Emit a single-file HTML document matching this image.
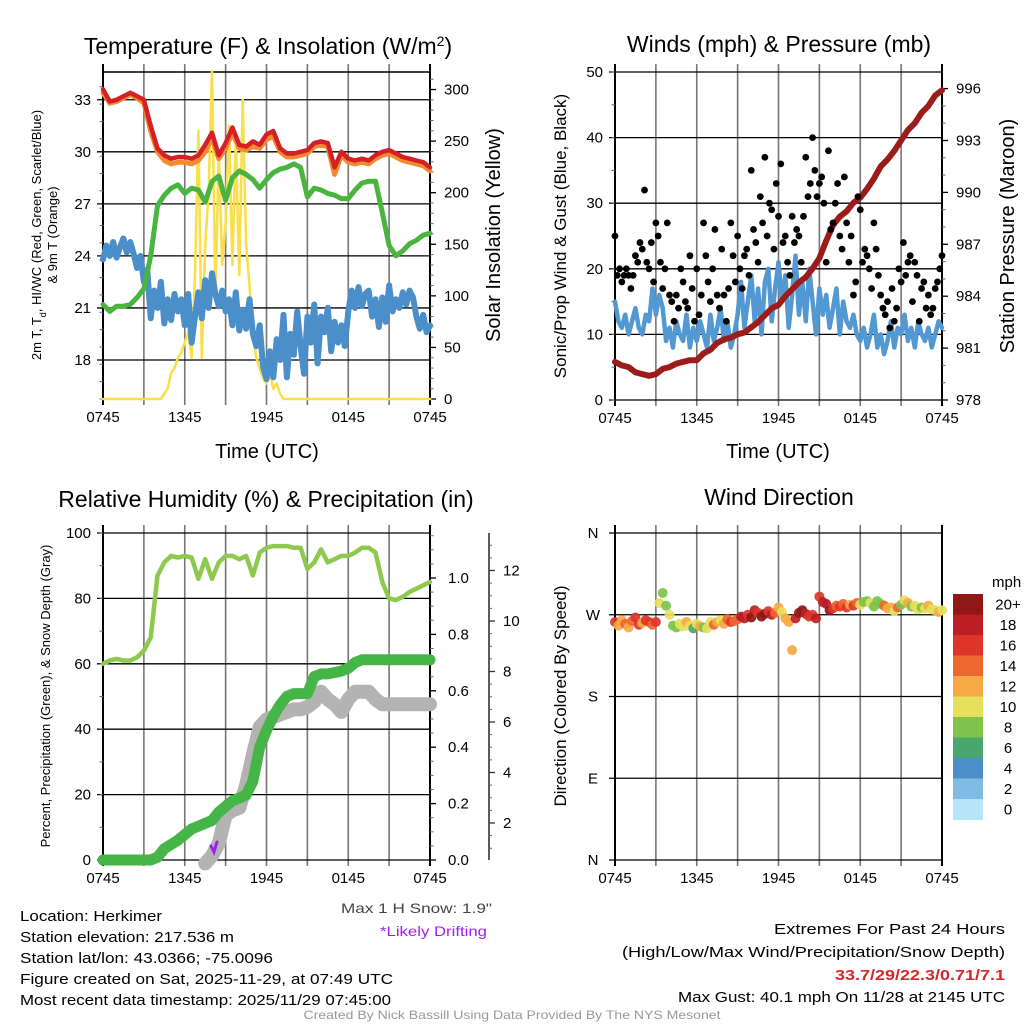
<!DOCTYPE html>
<html><head><meta charset="utf-8"><style>
html,body{margin:0;padding:0;background:#fff;}
svg{display:block;font-family:"Liberation Sans",Arial,sans-serif;}
</style></head><body>
<svg id="c" width="1024" height="1024" viewBox="0 0 1024 1024" xmlns="http://www.w3.org/2000/svg">
<rect width="1024" height="1024" fill="#fff"/>
<g id="p1"></g>
<g id="p2"></g>
<g id="p3"></g>
<g id="p4"></g>
<g id="labels">
<text x="268" y="54" font-size="23" text-anchor="middle">Temperature (F) &amp; Insolation (W/m<tspan baseline-shift="super" font-size="14">2</tspan>)</text>
<text x="779" y="52" font-size="23" text-anchor="middle">Winds (mph) &amp; Pressure (mb)</text>
<text x="266" y="507" font-size="23" text-anchor="middle">Relative Humidity (%) &amp; Precipitation (in)</text>
<text x="779" y="505" font-size="23" text-anchor="middle">Wind Direction</text>
<text x="267" y="458" font-size="20" text-anchor="middle">Time (UTC)</text>
<text x="778" y="458" font-size="20" text-anchor="middle">Time (UTC)</text>
<text transform="translate(41,235) rotate(-90)" font-size="13" text-anchor="middle">2m T, T<tspan baseline-shift="sub" font-size="9">d</tspan>, HI/WC (Red, Green, Scarlet/Blue)</text>
<text transform="translate(57,235) rotate(-90)" font-size="13" text-anchor="middle">&amp; 9m T (Orange)</text>
<text transform="translate(500,235) rotate(-90)" font-size="20" text-anchor="middle">Solar Insolation (Yellow)</text>
<text transform="translate(566,236) rotate(-90)" font-size="17" text-anchor="middle">Sonic/Prop Wind &amp; Gust (Blue, Black)</text>
<text transform="translate(1014,236) rotate(-90)" font-size="20" text-anchor="middle">Station Pressure (Maroon)</text>
<text transform="translate(50,696) rotate(-90)" font-size="13" text-anchor="middle">Percent, Precipitation (Green), &amp; Snow Depth (Gray)</text>
<text transform="translate(566,696) rotate(-90)" font-size="17" text-anchor="middle">Direction (Colored By Speed)</text>
<text x="492" y="913" font-size="14" text-anchor="end" fill="#444" textLength="151" lengthAdjust="spacingAndGlyphs">Max 1 H Snow: 1.9"</text>
<text x="487" y="936" font-size="14" text-anchor="end" fill="#a020f0" textLength="107" lengthAdjust="spacingAndGlyphs">*Likely Drifting</text>
<g font-size="15">
<text x="20" y="921" textLength="142" lengthAdjust="spacingAndGlyphs">Location: Herkimer</text>
<text x="20" y="942" textLength="214" lengthAdjust="spacingAndGlyphs">Station elevation: 217.536 m</text>
<text x="20" y="963" textLength="253" lengthAdjust="spacingAndGlyphs">Station lat/lon: 43.0366; -75.0096</text>
<text x="20" y="984" textLength="373" lengthAdjust="spacingAndGlyphs">Figure created on Sat, 2025-11-29, at 07:49 UTC</text>
<text x="20" y="1005" textLength="371" lengthAdjust="spacingAndGlyphs">Most recent data timestamp: 2025/11/29 07:45:00</text>
</g>
<g font-size="15" text-anchor="end">
<text x="1005" y="934" textLength="231" lengthAdjust="spacingAndGlyphs">Extremes For Past 24 Hours</text>
<text x="1005" y="957" textLength="383" lengthAdjust="spacingAndGlyphs">(High/Low/Max Wind/Precipitation/Snow Depth)</text>
<text x="1005" y="980" font-weight="bold" fill="#d42a2a" textLength="170" lengthAdjust="spacingAndGlyphs">33.7/29/22.3/0.71/7.1</text>
<text x="1005" y="1002" textLength="327" lengthAdjust="spacingAndGlyphs">Max Gust: 40.1 mph On 11/28 at 2145 UTC</text>
</g>
<text x="512" y="1019" font-size="12" fill="#999" text-anchor="middle" textLength="417" lengthAdjust="spacingAndGlyphs">Created By Nick Bassill Using Data Provided By The NYS Mesonet</text>
</g>
</svg>
<script>
// ---------- data (every 30 min unless noted, hours after 0745 UTC) ----------
const xTickLabels = ["0745","1345","1945","0145","0745"];
const tempRed = [33.6,32.9,33.0,33.2,33.4,33.2,33.0,31.5,30.2,29.8,29.6,29.7,29.7,29.6,29.8,30.4,31.1,29.8,30.5,31.4,30.4,30.3,30.6,30.4,31.0,31.2,30.2,29.9,29.9,30.0,30.1,30.5,30.6,30.5,29.1,30.0,29.6,29.5,29.6,29.5,29.8,30.0,30.1,29.9,29.7,29.6,29.5,29.4,29.1];
const temp9m = [33.4,32.8,32.9,33.1,33.3,33.1,32.8,31.2,30.0,29.5,29.3,29.4,29.4,29.3,29.5,30.0,30.8,29.6,30.2,31.1,30.2,30.1,30.3,30.2,30.7,30.9,30.0,29.7,29.7,29.8,29.9,30.3,30.4,30.3,28.7,29.8,29.4,29.3,29.4,29.3,29.6,29.8,29.9,29.7,29.5,29.4,29.3,29.2,28.9];
const dewPoint = [21.2,20.8,21.1,21.1,21.2,21.6,22.1,24.0,26.9,27.5,27.9,28.1,27.6,27.9,27.8,27.1,28.3,28.6,27.2,28.5,28.9,28.7,28.4,27.9,28.4,28.8,29.0,29.1,29.3,29.1,27.4,27.9,27.8,27.6,27.5,27.3,27.3,27.8,28.2,28.3,28.3,26.5,24.6,24.0,24.3,24.7,24.9,25.2,25.3];
// every 15 min
const windChill = [23.8,24.6,24.0,24.8,23.9,24.5,25.0,24.2,24.8,24.1,23.3,24.0,22.5,23.2,20.4,22.0,21.0,22.5,20.1,21.5,20.3,21.8,20.8,21.5,20.0,21.8,19.0,20.5,21.9,20.4,22.6,21.0,23.0,21.8,21.1,22.0,20.8,21.5,20.0,21.9,19.7,20.9,19.8,21.5,19.5,18.8,20.0,17.6,16.9,18.5,17.0,19.2,18.0,20.6,17.0,19.5,18.3,20.8,18.8,17.2,20.5,19.0,21.2,17.8,20.5,19.6,21.0,18.5,20.2,19.0,20.0,18.8,20.8,22.0,21.0,22.2,21.1,21.8,22.0,20.5,21.5,19.9,21.6,20.2,22.3,20.8,21.5,21.0,21.9,21.2,22.0,21.6,20.5,19.8,20.6,19.6,20.0];
const solar = [0,0,0,0,0,0,0,0,0,0,0,0,0,0,0,0,0,0,5,10,25,30,40,45,55,65,40,120,260,40,150,200,318,100,240,130,170,265,130,250,120,290,150,110,60,40,30,20,15,25,10,15,5,0,0,0,0,0,0,0,0,0,0,0,0,0,0,0,0,0,0,0,0,0,0,0,0,0,0,0,0,0,0,0,0,0,0,0,0,0,0,0,0,0,0,0,0];
const tempTicks = [18,21,24,27,30,33];
const solarTicks = [0,50,100,150,200,250,300];
// winds: 15-min sustained, 10-min gusts, 30-min pressure
const windSpeed = [15,12,11,13,10,12,14,11,10,13,12,17,13,16,14,9,11,8,12,10,9,13,8,11,9,12,10,8,13,9,11,14,9,12,8,10,13,18,11,15,19,12,17,10,18,20,12,17,21,15,19,11,16,22,13,18,12,20,15,10,17,13,16,11,14,17,10,15,12,11,13,10,9,11,8,10,13,8,10,7,9,12,8,11,10,13,9,11,8,12,10,9,11,8,10,12,11];
const gusts = [25,19,20,18,19,20,19,17,19,22,21,24,23,32,21,20,24,18,27,25,21,17,20,27,16,15,12,16,14,20,18,15,14,22,17,12,20,13,16,27,22,18,15,20,26,16,14,23,16,12,17,27,22,18,25,20,17,22,23,19,35,26,24,21,31,27,37,25,30,29,23,33,28,36,24,25,21,19,28,24,26,25,21,28,37,31,33,40,35,31,33,34,30,21,38,26,27,30,33,25,23,34,27,21,25,16,18,31,29,21,23,22,20,17,27,23,19,16,14,13,15,11,17,12,14,20,18,24,19,21,22,15,21,19,12,17,18,14,16,13,14,17,18,20,22];
const pressure = [980.2,980.0,979.9,979.6,979.5,979.4,979.5,979.8,979.9,980.1,980.2,980.3,980.3,980.7,980.9,981.3,981.5,981.6,981.8,981.9,982.2,982.5,982.9,983.3,983.5,984.0,984.4,984.8,985.1,985.6,986.2,987.2,988.1,988.6,988.9,989.4,989.7,990.2,990.8,991.5,991.9,992.4,993.0,993.6,994.0,994.6,995.0,995.6,995.9];
const windTicks = [0,10,20,30,40,50];
const pressTicks = [978,981,984,987,990,993,996];
// humidity / precipitation / snow (30 min)
const rh = [60,61,61.5,61,61,62,64,68,87,91,93,92.5,93,92.5,86,92,86,91,93,93,92,93,87,94,95.5,96,96,96,95.5,95.5,89,91,95,91,92,93,93,94,95.5,95.5,94,85,80,79.5,80.5,82,83,84,85];
const precip = [0,0,0,0,0,0,0,0,0.01,0.04,0.055,0.07,0.09,0.11,0.12,0.13,0.14,0.17,0.19,0.21,0.22,0.23,0.28,0.40,0.46,0.51,0.55,0.58,0.59,0.59,0.59,0.65,0.66,0.66,0.665,0.67,0.68,0.70,0.71,0.71,0.71,0.71,0.71,0.71,0.71,0.71,0.71,0.71,0.71];
const snowDepth = [null,null,null,null,null,null,null,null,null,null,null,null,null,null,null,0.4,0.7,1.2,2.3,2.5,2.6,3.5,4.7,5.8,6.1,6.2,6.3,6.4,6.5,6.5,6.6,6.8,7.2,6.9,6.7,6.4,6.9,7.2,7.2,7.2,6.9,6.7,6.7,6.7,6.7,6.7,6.7,6.7,6.7];
const rhTicks = [0,20,40,60,80,100];
const precipTicks = [0.0,0.2,0.4,0.6,0.8,1.0];
const snowTicks = [2,4,6,8,10,12];
// direction (15 min)
const direction = [262,258,264,260,256,263,267,259,261,264,262,259,262,283,294,280,270,258,256,260,257,262,258,255,260,257,256,255,262,259,262,264,260,265,262,263,265,268,266,270,267,275,272,268,271,274,270,272,278,273,266,262,231,266,272,275,271,268,270,266,290,284,282,275,277,280,279,282,278,281,280,283,281,284,285,283,279,285,282,280,277,278,274,278,281,286,283,279,280,276,278,277,280,276,275,273,275];
const dirSpeed = [16,13,12,14,13,15,16,17,12,16,17,15,16,11,8,9,11,8,9,10,11,12,10,6,10,12,9,11,10,14,12,11,13,14,17,15,15,18,19,17,20,19,16,20,21,17,18,15,12,11,13,12,13,19,20,21,18,17,16,18,17,19,18,20,17,15,16,14,17,12,16,14,10,9,8,11,9,8,9,14,12,13,10,14,9,10,12,9,10,11,9,10,13,10,11,12,11];
const dirTicks = ["N","E","S","W","N"];
const speedBins = ["0","2","4","6","8","10","12","14","16","18","20+"];
const speedColors = ["#b6e4f8","#7fbbe4","#4a8fc7","#4aa66f","#7dc34c","#e6e05b","#f6a944","#ee6630","#dd3629","#bb1e24","#8f1718"];

const NS="http://www.w3.org/2000/svg";
function mk(parent,tag,attrs){const e=document.createElementNS(NS,tag);for(const k in attrs)e.setAttribute(k,attrs[k]);parent.appendChild(e);return e;}
function lin(d0,d1,r0,r1){return v=>r0+(v-d0)*(r1-r0)/(d1-d0);}

function frame(g,L,R,T,B,name){
  const xs=lin(0,24,L,R);
  for(let h=0;h<=24;h+=3){
    const l=mk(g,'line',{x1:xs(h),x2:xs(h),y1:T-8,y2:B+6,stroke:(h===0||h===24)?'#000':'#777','stroke-width':(h===0||h===24)?2:1.6});
    
    
  }
  xTickLabels.forEach((t,i)=>{
    const tx=mk(g,'text',{x:xs(i*6),y:B+23,'font-size':15,'text-anchor':'middle'});
    tx.textContent=t;
    
    
  });
  return xs;
}
function hgrid(g,L,R,y,name){
  const l=mk(g,'line',{x1:L-6,x2:R,y1:y,y2:y,stroke:'#000','stroke-width':1.3});
  
  
}
function minorTicks(g,x,T,B,step,dir,name){
  for(let y=B;y>=T-0.5;y-=step){
    const l=mk(g,'line',{x1:x,x2:x+dir*3.5,y1:y,y2:y,stroke:'#666','stroke-width':1});
    
    
  }
}
function tickLabel(g,x,y,txt,anchor,name){
  const t=mk(g,'text',{x:x,y:y+5,'font-size':15,'text-anchor':anchor});
  t.textContent=txt;
  
  
}
function line(g,xs,ys,arr,step,color,w,name){
  let segs=[],cur=[];
  arr.forEach((v,i)=>{if(v===null){if(cur.length)segs.push(cur);cur=[];}else cur.push(xs(i*step).toFixed(1)+','+ys(v).toFixed(1));});
  if(cur.length)segs.push(cur);
  segs.forEach(s=>{
    const p=mk(g,'polyline',{points:s.join(' '),fill:'none',stroke:color,'stroke-width':w,'stroke-linejoin':'round','stroke-linecap':'round'});
    
    
  });
}

// ---------- Panel 1 ----------
(function(){
  const g=document.getElementById('p1');
  const L=103,R=430,T=72,B=399;
  const ys=lin(15.75,34.6,B,T);
  const ss=lin(0,317,B,T);
  const xs=frame(g,L,R,T,B,'temp');
  tempTicks.forEach(v=>{hgrid(g,L,R,ys(v),'temp-hgrid');tickLabel(g,L-12,ys(v),String(v),'end','temp-tick-label');});
  mk(g,'line',{x1:L,x2:R,y1:T,y2:T,stroke:'#000','stroke-width':1.5});
  minorTicks(g,L,T,B,ys(0)-ys(1),-1,'temp-minor-tick');
  minorTicks(g,R,T,B,ss(0)-ss(10),1,'solar-minor-tick');
  solarTicks.forEach(v=>{
    const l=mk(g,'line',{x1:R,x2:R+6,y1:ss(v),y2:ss(v),stroke:'#000','stroke-width':1.3});
    
    
    tickLabel(g,R+14,ss(v),String(v),'start','solar-tick-label');
  });
  line(g,xs,ss,solar,0.25,'#f9e04b',2.6,'solar-line');
  line(g,xs,ys,windChill,0.25,'#4a8fca',6,'windchill-line');
  line(g,xs,ys,dewPoint,0.5,'#49b43e',5,'dewpoint-line');
  line(g,xs,ys,temp9m,0.5,'#f28a30',5,'temp-9m-line');
  line(g,xs,ys,tempRed,0.5,'#d42026',4.5,'temp-2m-line');
})();

// ---------- Panel 2 ----------
(function(){
  const g=document.getElementById('p2');
  const L=615,R=942,T=72,B=400;
  const ys=lin(0,50,B,T);
  const ps=lin(978,996,B,88.6);
  const xs=frame(g,L,R,T,B,'wind');
  windTicks.forEach(v=>{hgrid(g,L,R,ys(v),'wind-hgrid');tickLabel(g,L-12,ys(v),String(v),'end','wind-tick-label');});
  minorTicks(g,L,T,B,ys(0)-ys(5),-1,'wind-minor-tick');
  minorTicks(g,R,T,B,ps(978)-ps(979),1,'pressure-minor-tick');
  pressTicks.forEach(v=>{
    const l=mk(g,'line',{x1:R,x2:R+6,y1:ps(v),y2:ps(v),stroke:'#000','stroke-width':1.3});
    
    
    tickLabel(g,R+14,ps(v),String(v),'start','pressure-tick-label');
  });
  line(g,xs,ys,windSpeed,0.25,'#5299d3',4.5,'wind-speed-line');
  line(g,xs,ps,pressure,0.5,'#9c1c1c',6,'pressure-line');
  gusts.forEach((v,i)=>{
    const c=mk(g,'circle',{cx:xs(i/6),cy:ys(v),r:3.4,fill:'#000'});
    
    
  });
})();

// ---------- Panel 3 ----------
(function(){
  const g=document.getElementById('p3');
  const L=103,R=430,T=533,B=860;
  const ys=lin(0,100,B,T);
  const prs=lin(0,1,B,578);
  const sns=lin(0,2,873.5,823);
  const xs=frame(g,L,R,T,B,'rh');
  rhTicks.forEach(v=>{hgrid(g,L,R,ys(v),'rh-hgrid');tickLabel(g,L-12,ys(v),String(v),'end','rh-tick-label');});
  minorTicks(g,L,T,B,ys(0)-ys(10),-1,'rh-minor-tick');
  minorTicks(g,R,T,B,prs(0)-prs(0.05),1,'precip-minor-tick');
  precipTicks.forEach(v=>{
    const l=mk(g,'line',{x1:R,x2:R+6,y1:prs(v),y2:prs(v),stroke:'#000','stroke-width':1.3});
    
    
    tickLabel(g,R+18,prs(v),v.toFixed(1),'start','precip-tick-label');
  });
  const ax=mk(g,'line',{x1:489,x2:489,y1:T,y2:B,stroke:'#333','stroke-width':1.6});
  
  
  for(let y=sns(1);y>=T;y-=sns(0)-sns(0.5)){
    const l=mk(g,'line',{x1:489,x2:492,y1:y,y2:y,stroke:'#666','stroke-width':1});
    
    
  }
  snowTicks.forEach(v=>{
    const l=mk(g,'line',{x1:489,x2:495,y1:sns(v),y2:sns(v),stroke:'#333','stroke-width':1.3});
    
    
    tickLabel(g,503,sns(v),String(v),'start','snow-tick-label');
  });
  line(g,xs,sns,snowDepth,0.5,'#b3b3b3',14,'snow-depth-line');
  line(g,xs,prs,precip,0.5,'#46b548',11,'precip-line');
  line(g,xs,ys,rh,0.5,'#8dc94d',4.5,'rh-line');
  const d=mk(g,'polyline',{points:'211,846 214,852 217,842',fill:'none',stroke:'#a020f0','stroke-width':3,'stroke-linecap':'round'});
  
  
})();

// ---------- Panel 4 ----------
(function(){
  const g=document.getElementById('p4');
  const L=615,R=942,T=533,B=860;
  const ys=lin(0,360,B,T);
  const xs=frame(g,L,R,T,B,'dir');
  dirTicks.forEach((t,i)=>{hgrid(g,L,R,ys(i*90),'dir-hgrid');tickLabel(g,L-22,ys(i*90),t,'middle','dir-tick-label');});
  function col(s){let k=Math.floor(s/2);if(k>10)k=10;return speedColors[k];}
  direction.forEach((v,i)=>{
    const c=mk(g,'circle',{cx:xs(i*0.25),cy:ys(v),r:5,fill:col(dirSpeed[i]),'fill-opacity':0.92});
    
    
  });
  const cbTop=594,bh=20.5;
  const t=mk(g,'text',{x:992,y:587,'font-size':15,'text-anchor':'start'});
  t.textContent='mph';
  
  
  for(let k=10;k>=0;k--){
    const y=cbTop+(10-k)*bh;
    const r=mk(g,'rect',{x:953,y:y,width:30,height:bh+0.5,fill:speedColors[k]});
    
    
    const lb=mk(g,'text',{x:1008,y:y+bh/2+5,'font-size':15,'text-anchor':'middle'});
    lb.textContent=speedBins[k];
    
    
  }
})();
</script>
</body></html>
